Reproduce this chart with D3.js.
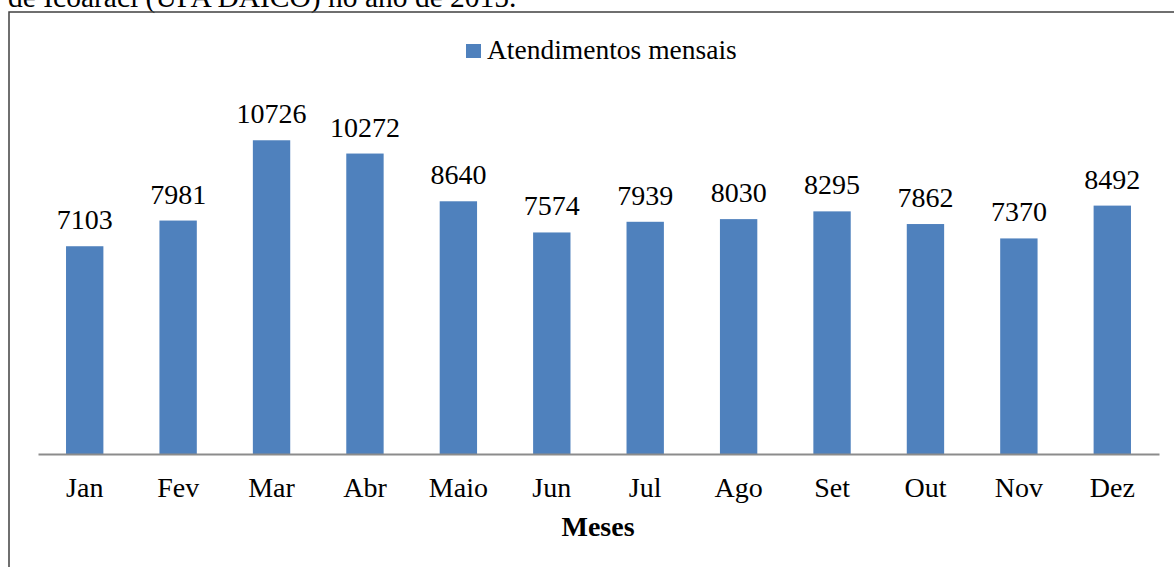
<html>
<head>
<script src="https://d3js.org/d3.v7.min.js"></script>
<style>
body { margin: 0; background: #fff; overflow: hidden; }
svg text { font-family: "Liberation Serif", "Times New Roman", serif; fill: #000; }
</style>
</head>
<body>
<div id="vis_container"></div>
<script>
// data
var months = ["Jan", "Fev", "Mar", "Abr", "Maio", "Jun", "Jul", "Ago", "Set", "Out", "Nov", "Dez"];
var atendimentos = [7103, 7981, 10726, 10272, 8640, 7574, 7939, 8030, 8295, 7862, 7370, 8492];
var seriesName = "Atendimentos mensais";
var axisTitle = "Meses";
var caption = "de Icoaraci (UPA DAICO) no ano de 2015.";

var width = 1174, height = 567;
var barColor = "#4f81bd";

var svg = d3.select("#vis_container")
    .append("svg")
    .attr("width", width)
    .attr("height", height);

// caption from the page, cut off at the top
svg.append("text")
    .attr("x", 8)
    .attr("y", 7)
    .style("font-size", "29.5px")
    .text(caption);

// chart frame (runs off the right and bottom)
svg.append("rect")
    .attr("x", 9)
    .attr("y", 12)
    .attr("width", 1200)
    .attr("height", 600)
    .attr("fill", "none")
    .attr("stroke", "#404040")
    .attr("stroke-width", 1.5);

var x = d3.scaleBand()
    .domain(months)
    .range([38, 1159])
    .paddingInner(0.6)
    .paddingOuter(0.3);

var y = d3.scaleLinear()
    .domain([0, 12000])
    .range([454, 103]);

svg.selectAll("rect.bar")
    .data(atendimentos)
    .enter()
    .append("rect")
    .attr("class", "bar")
    .attr("x", function(d, i) { return x(months[i]); })
    .attr("y", function(d) { return y(d); })
    .attr("width", x.bandwidth())
    .attr("height", function(d) { return y(0) - y(d); })
    .attr("fill", barColor);

// value labels
svg.selectAll("text.val")
    .data(atendimentos)
    .enter()
    .append("text")
    .attr("class", "val")
    .attr("x", function(d, i) { return x(months[i]) + x.bandwidth() / 2; })
    .attr("y", function(d) { return y(d) - 17; })
    .attr("text-anchor", "middle")
    .style("font-size", "28px")
    .text(function(d) { return d; });

// x axis
var xAxis = svg.append("g")
    .attr("transform", "translate(0,454)")
    .call(d3.axisBottom(x).tickSize(0).tickPadding(23));
xAxis.select(".domain").attr("stroke", "#8c8c8c").attr("stroke-width", 2);
xAxis.selectAll("text")
    .style("font-family", "'Liberation Serif', 'Times New Roman', serif")
    .style("font-size", "28px")
    .attr("fill", "#000");

svg.append("text")
    .attr("x", 598)
    .attr("y", 536)
    .attr("text-anchor", "middle")
    .style("font-size", "28px")
    .style("font-weight", "bold")
    .text(axisTitle);

// legend
svg.append("rect")
    .attr("x", 466)
    .attr("y", 44)
    .attr("width", 15)
    .attr("height", 14)
    .attr("fill", barColor);

svg.append("text")
    .attr("x", 487)
    .attr("y", 59)
    .style("font-size", "27.5px")
    .text(seriesName);
</script>
</body>
</html>
